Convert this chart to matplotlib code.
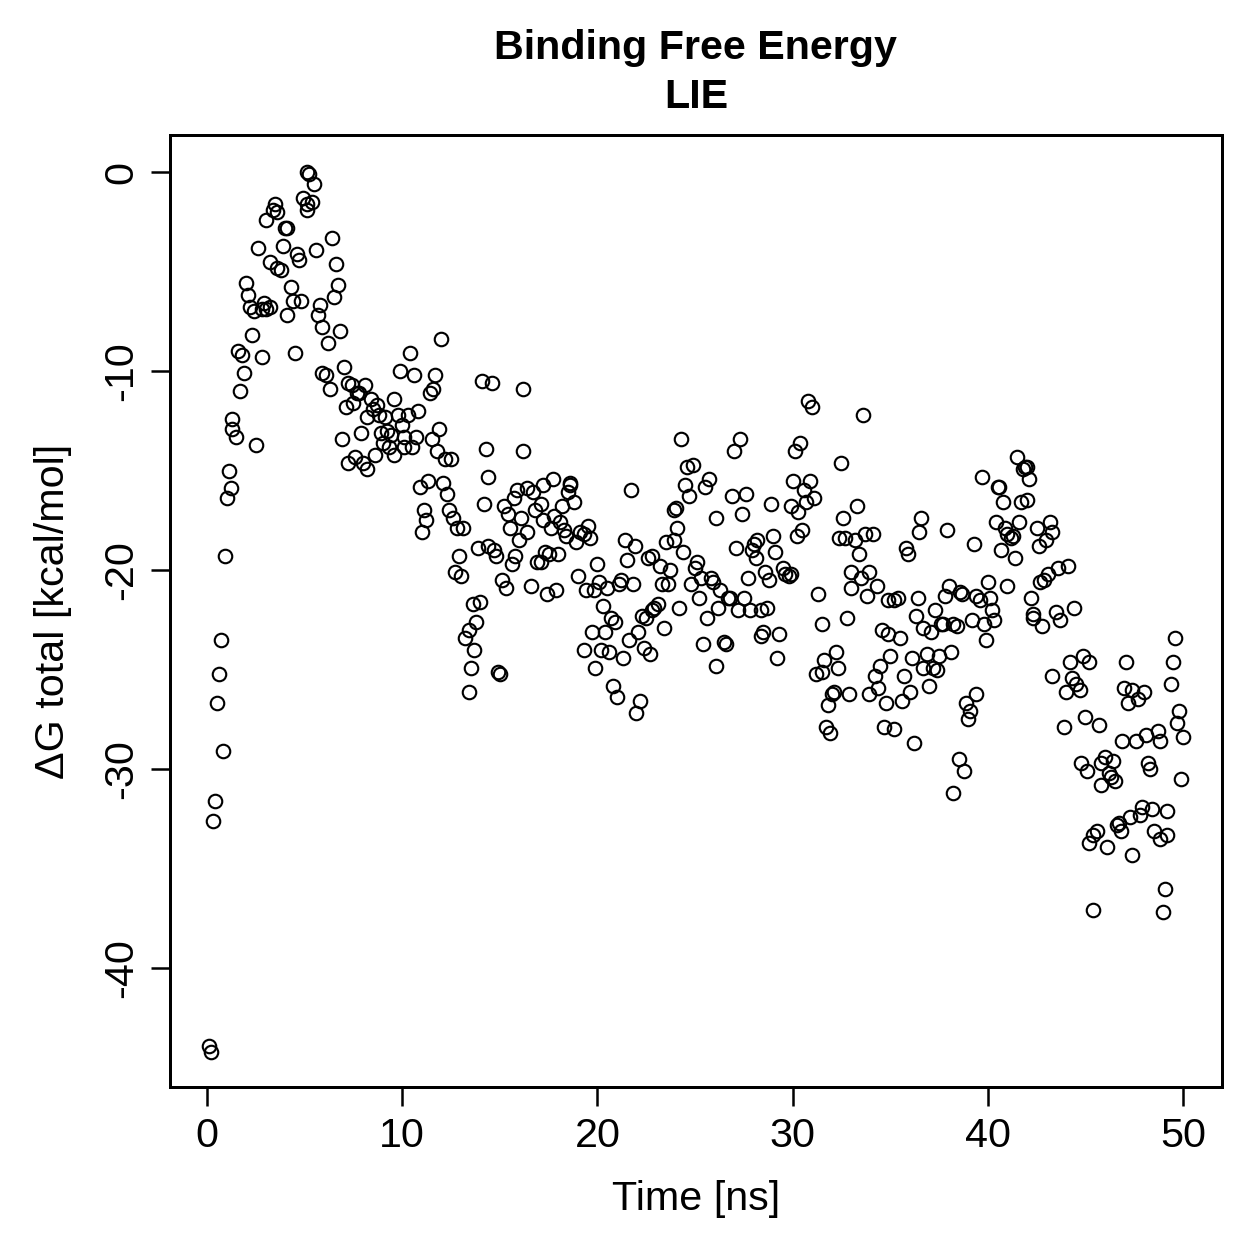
import numpy as np
import matplotlib.pyplot as plt

plt.rcParams['font.family'] = ['Liberation Sans', 'DejaVu Sans']
plt.rcParams['axes.unicode_minus'] = False

# LIE binding free energy (time in ns, dG in kcal/mol)
time_ns = [
    0.1, 0.2, 0.3, 0.4, 0.5, 0.6, 0.7, 0.8, 0.9, 1.0, 1.1, 1.2, 1.3, 1.3, 1.5, 1.6, 1.7, 1.8, 1.9, 2.0,
    2.1, 2.2, 2.3, 2.4, 2.5, 2.6, 2.8, 2.8, 2.9, 3.0, 3.0, 3.2, 3.2, 3.4, 3.5, 3.6, 3.6, 3.8, 3.9, 4.0,
    4.1, 4.1, 4.3, 4.4, 4.5, 4.6, 4.7, 4.8, 4.9, 5.1, 5.1, 5.1, 5.2, 5.4, 5.5, 5.6, 5.7, 5.8, 5.9, 5.9,
    6.1, 6.2, 6.3, 6.4, 6.5, 6.6, 6.7, 6.8, 6.9, 7.0, 7.1, 7.2, 7.2, 7.4, 7.5, 7.6, 7.7, 7.8, 7.9, 8.0,
    8.1, 8.2, 8.2, 8.4,
    # 8.5 - 17 ns
    8.5, 8.7, 8.8, 9.1, 9.6, 9.8, 10.3, 10.8, 10.0, 9.9, 10.4, 10.6, 11.7, 11.6, 11.4, 12.0, 11.9, 11.5,
    8.9, 9.2, 9.4, 10.1, 10.7, 10.5, 10.1, 9.0, 9.3, 9.6, 8.6, 11.8, 12.2, 12.5, 10.9, 11.3, 12.1, 12.3,
    11.1, 11.2, 11.0, 12.4, 12.6, 12.8, 13.1, 12.9, 12.7, 13.0, 13.6, 14.0, 13.8, 13.4, 13.2,
    13.4, 13.5, 13.7, 14.9, 15.0,
    14.1, 14.6, 16.2, 14.3, 16.2, 14.4, 14.2, 15.9, 16.4, 16.7, 15.7, 15.2, 15.4, 16.1, 16.8, 15.5,
    16.4, 16.0, 13.9, 14.4, 14.7, 14.8, 15.8, 15.6, 16.9, 15.1, 15.3, 16.6,
    # 17 - 26 ns
    17.7, 17.2, 18.6, 18.6, 18.5, 18.8, 18.2, 17.1, 17.8, 18.1, 17.6, 17.2, 19.5, 19.1, 19.3, 18.3,
    18.4, 18.9, 19.6, 17.3, 17.5, 18.0, 17.1, 21.4, 21.9, 21.5, 20.0, 19.0, 22.8, 22.6, 23.2, 23.7,
    25.1, 25.0, 25.3, 25.8, 25.9, 24.8, 23.3, 23.6, 19.4, 19.8, 20.1, 20.5, 21.2, 21.1, 21.8, 17.4,
    17.9, 26.3, 25.2, 20.3, 24.2, 23.1, 22.9, 22.8, 22.3, 22.5, 26.2, 20.7, 20.9, 25.6, 23.4, 19.7,
    20.4, 22.1, 21.6, 25.4, 19.3, 20.2, 20.6, 21.3, 22.4, 22.7, 26.1, 19.9, 20.8, 21.0, 22.2, 22.0,
    24.3, 24.6, 24.9, 25.7, 25.5, 24.5, 24.7, 23.9, 24.0, 26.1, 24.1, 23.5, 23.9, 24.4, 21.7,
    # 26 - 35 ns
    30.8, 31.0, 33.6, 27.3, 27.0, 30.4, 30.1, 32.5, 30.0, 30.9, 30.6, 29.9, 30.7, 31.1, 30.3, 26.9,
    27.6, 27.4, 28.9, 30.2, 30.5, 29.0, 29.1, 27.1, 27.9, 28.0, 28.2, 28.1, 33.3, 32.6, 32.4, 32.7,
    33.2, 33.7, 34.1, 33.4, 27.7, 28.6, 28.8, 29.5, 29.6, 29.8, 29.9, 33.0, 33.9, 33.5, 33.0, 34.3,
    33.8, 26.8, 26.7, 27.5, 27.2, 27.8, 28.4, 28.7, 31.3, 34.9, 32.8, 31.5, 28.4, 28.5, 29.3, 26.5,
    26.6, 34.6, 34.9, 29.2, 32.2, 31.6, 32.3, 31.5, 31.2, 34.5, 34.2, 35.0, 32.1, 32.0, 32.9, 31.8,
    33.9, 34.4, 34.8, 31.7, 31.9, 34.7, 35.2,
    # 35 - 44 ns
    41.5, 41.9, 42.0, 41.8, 42.1, 39.7, 40.5, 40.6, 40.8, 41.7, 42.0, 36.6, 36.5, 37.9, 39.3, 40.4,
    40.9, 41.0, 41.3, 41.2, 41.6, 40.7, 41.4, 42.5, 43.2, 43.3, 43.0, 42.6, 35.8, 35.9, 43.6, 43.1,
    44.1, 42.9, 42.7, 38.0, 37.8, 38.6, 38.7, 40.0, 39.4, 39.6, 40.1, 41.0, 42.2, 35.2, 35.4, 36.4,
    36.3, 37.3, 40.2, 40.3, 39.8, 39.2, 43.5, 43.7, 42.3, 42.3, 42.8, 36.7, 37.1, 37.6, 37.7, 38.2,
    38.4, 35.5, 39.9, 36.1, 36.9, 37.5, 38.1, 36.7, 37.2, 37.4, 35.7, 37.0, 36.0, 35.6, 39.4, 38.9,
    39.1, 39.0, 36.2, 38.5, 38.8, 38.2, 43.3,
    # 44 - 50 ns
    44.4, 49.6, 49.5, 47.1, 49.4, 44.9, 45.2, 44.2, 44.3, 44.5, 44.7, 44.0, 47.0, 47.4, 48.0, 47.7,
    47.2, 49.8, 49.7, 50.0, 49.9, 43.9, 45.0, 45.7, 46.9, 47.6, 48.1, 48.7, 48.8, 48.2, 48.3, 44.8,
    45.1, 45.8, 46.0, 46.4, 46.2, 46.5, 45.8, 46.3, 47.9, 48.4, 49.2, 47.8, 47.3, 46.7, 46.8, 46.6,
    45.6, 45.4, 45.2, 46.1, 47.4, 48.5, 48.8, 49.2, 49.1, 45.4, 49.0,
]

dG_total = [
    -43.9, -44.2, -32.6, -31.6, -26.7, -25.2, -23.5, -29.1, -19.3, -16.4, -15.0, -15.9, -12.4, -12.9, -13.3, -9.0, -11.0, -9.2, -10.1, -5.6,
    -6.2, -6.8, -8.2, -7.0, -13.7, -3.8, -6.9, -9.3, -6.6, -2.4, -6.9, -4.5, -6.8, -1.9, -1.6, -2.0, -4.8, -4.9, -3.7, -2.8,
    -2.8, -7.2, -5.8, -6.5, -9.1, -4.1, -4.4, -6.5, -1.3, -1.6, -1.9, 0.0, -0.1, -1.5, -0.6, -3.9, -7.2, -6.7, -7.8, -10.1,
    -10.2, -8.6, -10.9, -3.3, -6.3, -4.6, -5.7, -8.0, -13.4, -9.8, -11.8, -14.6, -10.6, -10.7, -11.6, -14.3, -11.1, -11.1, -13.1, -14.6,
    -10.7, -12.3, -14.9, -11.4,
    -11.9, -11.7, -12.2, -12.3, -11.4, -12.2, -12.2, -12.0, -12.7, -10.0, -9.1, -10.2, -10.2, -10.9, -11.1, -8.4, -12.9, -13.4,
    -13.1, -13.0, -13.2, -13.3, -13.3, -13.8, -13.8, -13.6, -13.8, -14.2, -14.2, -14.0, -14.4, -14.4, -15.8, -15.5, -15.6, -16.2,
    -17.0, -17.5, -18.1, -17.0, -17.4, -17.9, -17.9, -19.3, -20.1, -20.3, -21.7, -21.6, -22.6, -23.0, -23.4,
    -26.1, -24.9, -24.0, -25.1, -25.2,
    -10.5, -10.6, -10.9, -13.9, -14.0, -15.3, -16.7, -16.0, -15.9, -16.1, -16.4, -16.8, -17.2, -17.4, -17.0, -17.9,
    -18.1, -18.5, -18.9, -18.8, -19.0, -19.3, -19.3, -19.7, -19.6, -20.5, -20.9, -20.8,
    -15.4, -15.7, -15.6, -15.7, -16.1, -16.6, -16.8, -16.7, -17.3, -17.6, -17.9, -17.5, -17.8, -18.1, -18.2, -18.0,
    -18.3, -18.6, -18.4, -19.1, -19.2, -19.2, -19.6, -18.5, -18.8, -19.5, -19.7, -20.3, -19.3, -19.4, -19.8, -20.0,
    -19.6, -19.9, -20.4, -20.4, -20.6, -20.7, -20.7, -20.7, -21.0, -21.0, -20.6, -20.9, -20.5, -20.7, -20.7, -21.2,
    -21.0, -21.0, -21.4, -21.8, -21.9, -21.7, -21.9, -22.0, -22.3, -22.4, -21.9, -22.4, -22.6, -22.4, -22.9, -23.1,
    -23.1, -23.1, -23.5, -23.7, -24.0, -24.0, -24.1, -24.4, -23.9, -24.2, -24.8, -24.9, -25.8, -26.4, -26.6, -27.2,
    -13.4, -14.8, -14.7, -15.4, -15.8, -15.7, -16.3, -17.0, -16.9, -17.4, -17.9, -18.6, -18.5, -19.1, -16.0,
    -11.5, -11.8, -12.2, -13.4, -14.0, -13.6, -14.0, -14.6, -15.5, -15.5, -16.0, -16.8, -16.6, -16.4, -17.1, -16.3,
    -16.2, -17.2, -16.7, -18.3, -18.0, -18.3, -19.1, -18.9, -19.0, -18.7, -18.5, -19.4, -16.8, -17.4, -18.4, -18.4,
    -18.5, -18.2, -18.2, -19.2, -20.4, -20.1, -20.5, -19.9, -20.2, -20.3, -20.2, -20.1, -20.1, -20.4, -20.9, -20.8,
    -21.3, -21.4, -21.4, -21.4, -22.0, -22.0, -22.0, -21.9, -21.2, -21.5, -22.4, -22.7, -23.3, -23.1, -23.2, -23.6,
    -23.7, -23.0, -23.2, -24.4, -24.1, -24.5, -24.9, -25.1, -25.2, -24.8, -25.3, -24.3, -26.1, -26.2, -26.2, -26.8,
    -26.2, -25.9, -26.7, -27.9, -28.2, -27.9, -28.0,
    -14.3, -14.8, -14.8, -14.9, -15.4, -15.3, -15.8, -15.8, -16.6, -16.6, -16.5, -17.4, -18.1, -18.0, -18.7, -17.6,
    -17.9, -18.2, -18.3, -18.4, -17.6, -19.0, -19.4, -17.9, -17.6, -18.1, -18.5, -18.8, -18.9, -19.2, -19.9, -20.2,
    -19.8, -20.5, -20.6, -20.8, -21.3, -21.1, -21.2, -20.6, -21.3, -21.5, -21.4, -20.8, -21.4, -21.5, -21.4, -21.4,
    -22.3, -22.0, -22.0, -22.5, -22.7, -22.5, -22.1, -22.5, -22.2, -22.4, -22.8, -22.9, -23.1, -22.7, -22.7, -22.7,
    -22.8, -23.4, -23.5, -24.4, -24.2, -24.3, -24.1, -24.9, -24.9, -25.0, -25.3, -25.8, -26.1, -26.6, -26.2, -26.7,
    -27.1, -27.5, -28.7, -29.5, -30.1, -31.2, -25.3,
    -21.9, -23.4, -24.6, -24.6, -25.7, -24.3, -24.6, -24.6, -25.4, -25.7, -26.0, -26.1, -25.9, -26.0, -26.1, -26.5,
    -26.7, -27.1, -27.7, -28.4, -30.5, -27.9, -27.4, -27.8, -28.6, -28.6, -28.3, -28.1, -28.6, -29.7, -30.0, -29.7,
    -30.1, -29.7, -29.4, -29.6, -30.2, -30.6, -30.8, -30.4, -31.9, -32.0, -32.1, -32.3, -32.4, -32.7, -33.1, -32.8,
    -33.1, -33.3, -33.7, -33.9, -34.3, -33.1, -33.5, -33.3, -36.0, -37.1, -37.2,
]

W = H = 1259
fig = plt.figure(figsize=(W / 180, H / 180), dpi=180)
ax = fig.add_axes([170 / W, 1 - 1087 / H, (1222 - 170) / W, (1087 - 135) / H])

ax.plot(time_ns, dG_total, linestyle='none', marker='o', markersize=5.4,
        markerfacecolor='none', markeredgecolor='black', markeredgewidth=0.85)

ax.set_xlim(-1.9, 52.0)
ax.set_ylim(-45.97, 1.86)
ax.set_xticks([0, 10, 20, 30, 40, 50])
ax.set_yticks([0, -10, -20, -30, -40])

for s in ax.spines.values():
    s.set_linewidth(1.2)

ax.tick_params(axis='both', direction='out', length=7.5, width=1.0, labelsize=16.5, pad=4.5)
for lab in ax.get_yticklabels():
    lab.set_rotation(90)
    lab.set_va('center')

ax.set_xlabel('Time [ns]', fontsize=16.5, labelpad=10)
ax.set_ylabel('\u0394G total [kcal/mol]', fontsize=16.5, labelpad=12)
ax.set_title('Binding Free Energy\nLIE', fontsize=16.5, fontweight='bold',
             pad=10.8, linespacing=1.38)

fig.savefig('out.png', dpi=180)
